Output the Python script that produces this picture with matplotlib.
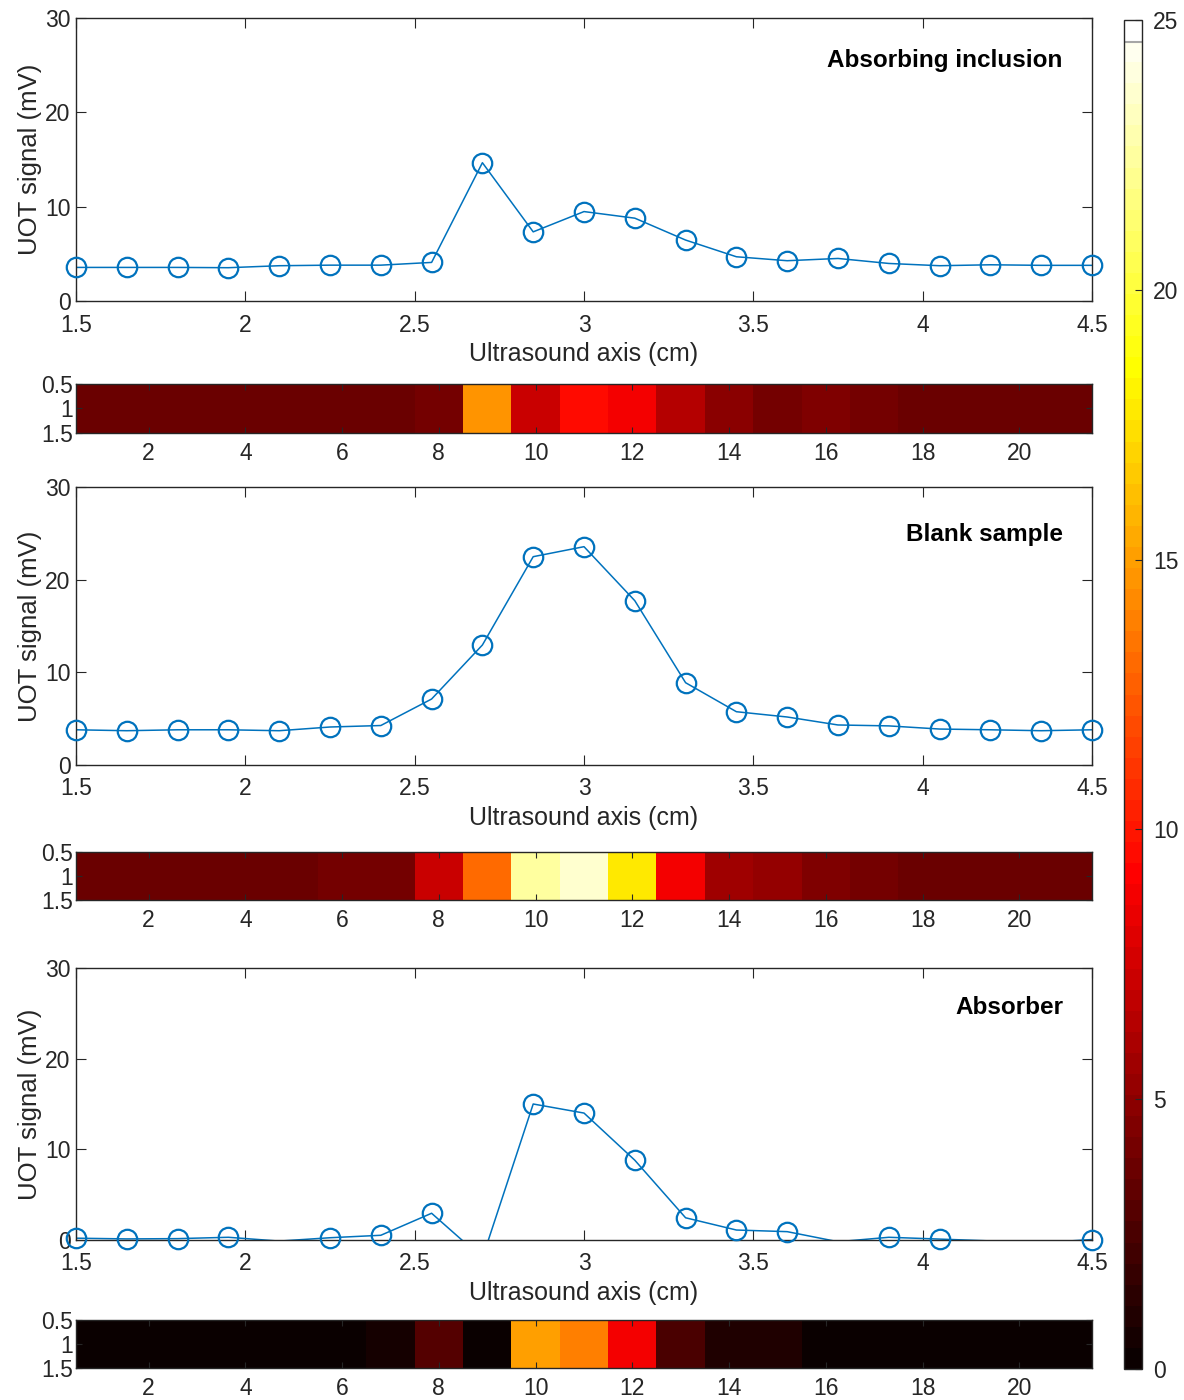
import numpy as np
import matplotlib
matplotlib.use("Agg")
import matplotlib.pyplot as plt
from matplotlib.colors import Normalize
from matplotlib.cm import ScalarMappable

plt.rcParams['font.family'] = ['Liberation Sans', 'DejaVu Sans']

# Position along the ultrasound axis (cm) and the matching scan index
position_cm = [1.5, 1.65, 1.8, 1.95, 2.1, 2.25, 2.4, 2.55, 2.7, 2.85, 3.0,
               3.15, 3.3, 3.45, 3.6, 3.75, 3.9, 4.05, 4.2, 4.35, 4.5]
scan_index = list(range(1, 22))

# UOT signal (mV) for each sample
absorbing_inclusion = [3.56, 3.56, 3.56, 3.53, 3.74, 3.80, 3.80, 4.09, 14.66, 7.33, 9.48,
                       8.78, 6.46, 4.69, 4.27, 4.51, 3.98, 3.74, 3.84, 3.78, 3.78]
blank_sample = [3.80, 3.70, 3.80, 3.80, 3.70, 4.10, 4.26, 7.12, 12.95, 22.48, 23.56,
                17.73, 8.88, 5.75, 5.18, 4.32, 4.22, 3.88, 3.80, 3.70, 3.80]
absorber = [0.20, 0.12, 0.15, 0.30, -0.12, 0.25, 0.52, 2.95, -2.0, 15.0, 14.0,
            8.80, 2.45, 1.10, 0.92, -0.19, 0.30, 0.10, -0.10, -0.30, 0.05]

panel_titles = ["Absorbing inclusion", "Blank sample", "Absorber"]
panel_data = [absorbing_inclusion, blank_sample, absorber]

x_ticks = [1.5, 2, 2.5, 3, 3.5, 4, 4.5]
x_ticklabels = ["1.5", "2", "2.5", "3", "3.5", "4", "4.5"]
y_ticks = [0, 10, 20, 30]
strip_xticks = [2, 4, 6, 8, 10, 12, 14, 16, 18, 20]
strip_yticks = [0.5, 1, 1.5]
strip_yticklabels = ["0.5", "1", "1.5"]
cbar_ticks = [0, 5, 10, 15, 20, 25]

LINE_COLOR = "#0072BD"
AX_COLOR = "#262626"
W, H = 1184, 1400
TICK_FS = 16.5

fig = plt.figure(figsize=(W / 100, H / 100), dpi=100)


def rect(l, t, r, b):
    return [l / W, 1 - b / H, (r - l) / W, (b - t) / H]


line_rects = [(76, 18, 1092, 301), (76, 487, 1092, 765), (76, 968, 1092, 1240)]
strip_rects = [(76, 384, 1092, 433), (76, 852, 1092, 900), (76, 1320, 1092, 1368)]
title_pos = [(0.971, 0.85), (0.971, 0.83), (0.972, 0.855)]

cmap = plt.get_cmap('hot', 64)
norm = Normalize(vmin=0, vmax=25)


def style_axes(ax, length):
    for s in ax.spines.values():
        s.set_color(AX_COLOR)
        s.set_linewidth(1.0)
    ax.tick_params(direction='in', top=True, right=True, length=length,
                   width=0.8, color=AX_COLOR, labelcolor=AX_COLOR, labelsize=TICK_FS)


for data, title, lr, sr, tp in zip(panel_data, panel_titles, line_rects, strip_rects, title_pos):
    vals = np.array(data)
    ax = fig.add_axes(rect(*lr))
    ax.plot(position_cm, vals, '-', color=LINE_COLOR, lw=1.1)
    shown = np.ma.masked_less(vals, 0)
    ax.plot(position_cm, shown, 'o', mfc='none', mec=LINE_COLOR, ms=14,
            mew=1.6, clip_on=False, zorder=3)
    ax.set_xlim(1.5, 4.5)
    ax.set_ylim(0, 30)
    ax.set_xticks(x_ticks)
    ax.set_xticklabels(x_ticklabels)
    ax.set_yticks(y_ticks)
    style_axes(ax, 7)
    ax.tick_params(axis='x', pad=9)
    ax.tick_params(axis='y', pad=4)
    ax.set_xlabel("Ultrasound axis (cm)", fontsize=18, color=AX_COLOR, labelpad=4)
    ax.set_ylabel("UOT signal (mV)", fontsize=18.5, color=AX_COLOR, labelpad=2)
    ax.text(tp[0], tp[1], title, transform=ax.transAxes, ha='right', va='center',
            fontsize=17.5, fontweight='bold', color='black')

    sx = fig.add_axes(rect(*sr))
    sx.imshow(vals[None, :], cmap=cmap, norm=norm, aspect='auto',
              extent=(scan_index[0] - 0.5, scan_index[-1] + 0.5, 1.5, 0.5),
              interpolation='nearest')
    sx.set_xticks(strip_xticks)
    sx.set_yticks(strip_yticks)
    sx.set_yticklabels(strip_yticklabels)
    style_axes(sx, 4)
    sx.tick_params(axis='x', pad=6.5)
    sx.tick_params(axis='y', pad=2)

cax = fig.add_axes(rect(1124, 20, 1142, 1369))
cb = fig.colorbar(ScalarMappable(norm=norm, cmap=cmap), cax=cax)
cb.set_ticks(cbar_ticks)
cb.outline.set_edgecolor(AX_COLOR)
cb.outline.set_linewidth(1.0)
cax.tick_params(direction='in', length=5, width=0.8, color=AX_COLOR,
                labelcolor=AX_COLOR, labelsize=TICK_FS, pad=8)
cax.axhline(24.6, color='0.65', lw=1.5)

fig.savefig("out.png", dpi=100)
